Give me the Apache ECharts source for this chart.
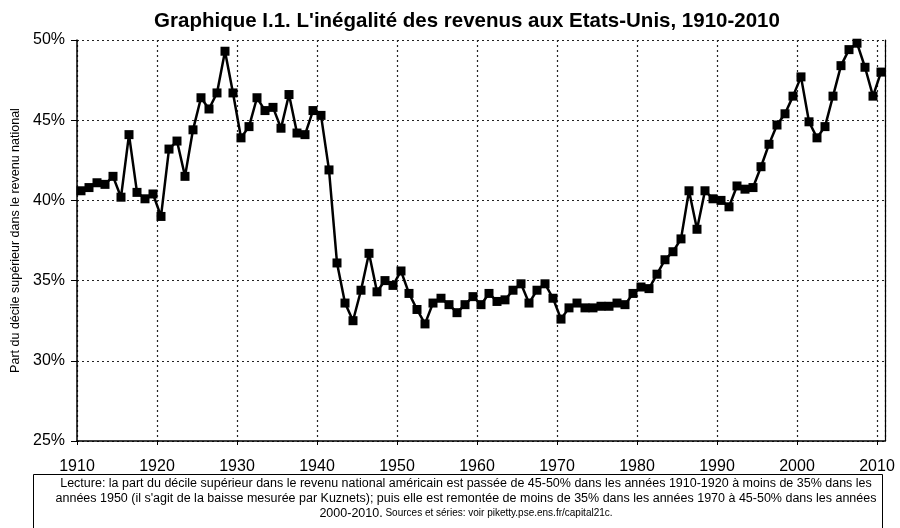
<!DOCTYPE html>
<html>
<head>
<meta charset="utf-8">
<script src="https://cdn.jsdelivr.net/npm/echarts@6/dist/echarts.min.js"></script>
<style>
  html, body { margin: 0; padding: 0; background: #fff; }
  #chart { width: 900px; height: 528px; }
</style>
</head>
<body>
<div id="chart"></div>
<script>
// années 1910-2010
const years = []
for (let y = 1910; y <= 2010; y++) years.push(y)

// part du décile supérieur (%)
const shares = [
  40.6, 40.8, 41.1, 41.0, 41.5, 40.2, 44.1, 40.5, 40.1, 40.4,
  39.0, 43.2, 43.7, 41.5, 44.4, 46.4, 45.7, 46.7, 49.3, 46.7,
  43.9, 44.6, 46.4, 45.6, 45.8, 44.5, 46.6, 44.2, 44.1, 45.6,
  45.3, 41.9, 36.1, 33.6, 32.5, 34.4, 36.7, 34.3, 35.0, 34.7,
  35.6, 34.2, 33.2, 32.3, 33.6, 33.9, 33.5, 33.0, 33.5, 34.0,
  33.5, 34.2, 33.7, 33.8, 34.4, 34.8, 33.6, 34.4, 34.8, 33.9,
  32.6, 33.3, 33.6, 33.3, 33.3, 33.4, 33.4, 33.6, 33.5, 34.2,
  34.6, 34.5, 35.4, 36.3, 36.8, 37.6, 40.6, 38.2, 40.6, 40.1,
  40.0, 39.6, 40.9, 40.7, 40.8, 42.1, 43.5, 44.7, 45.4, 46.5,
  47.7, 44.9, 43.9, 44.6, 46.5, 48.4, 49.4, 49.8, 48.3, 46.5,
  48.0
]

const yTicks = [25, 30, 35, 40, 45, 50]
const titleText = "Graphique I.1. L'inégalité des revenus aux Etats-Unis, 1910-2010"
const yName = 'Part du décile supérieur dans le revenu national'
const noteLine1 = 'Lecture: la part du décile supérieur dans le revenu national américain est passée de 45-50% dans les années 1910-1920 à moins de 35% dans les'
const noteLine2 = 'années 1950 (il s\'agit de la baisse mesurée par Kuznets); puis elle est remontée de moins de 35% dans les années 1970 à 45-50% dans les années'
const noteLine3a = '2000-2010.'
const noteLine3b = ' Sources et séries: voir piketty.pse.ens.fr/capital21c.'

// chaque année est centrée dans sa case
const points = years.map((y, i) => [y + 0.5, shares[i]])

const chart = echarts.init(document.getElementById('chart'))

const dotted = { color: '#222', width: 1.2, type: [2, 3] }
const font = '"Liberation Sans", Arial, sans-serif'

chart.setOption({
  animation: false,
  textStyle: { fontFamily: font },
  title: {
    text: titleText,
    left: 462,
    textAlign: 'center',
    top: 6,
    textStyle: { fontSize: 20.5, fontWeight: 'bold', color: '#000' }
  },
  grid: { left: 77, right: 15, top: 40, bottom: 87 },
  xAxis: {
    type: 'value',
    min: 1910,
    max: 2011,
    interval: 10,
    axisLine: { show: true, onZero: false, lineStyle: { color: '#000', width: 1.5 } },
    axisTick: { show: true, length: 4, lineStyle: { color: '#000' } },
    axisLabel: {
      color: '#000',
      fontSize: 16,
      margin: 18,
      showMaxLabel: false,
      formatter: v => (v % 10 === 0 ? String(v) : '')
    },
    splitLine: { show: true, lineStyle: dotted }
  },
  yAxis: [
    {
      type: 'value',
      min: yTicks[0],
      max: yTicks[yTicks.length - 1],
      interval: 5,
      name: yName,
      nameLocation: 'middle',
      nameGap: 54,
      nameTextStyle: { fontSize: 12.5, color: '#000' },
      axisLine: { show: true, lineStyle: { color: '#000', width: 1.5 } },
      axisTick: { show: true, length: 6, lineStyle: { color: '#000' } },
      axisLabel: { color: '#000', fontSize: 16, margin: 12, formatter: '{value}%' },
      splitLine: { show: true, lineStyle: dotted }
    },
    {
      type: 'value',
      position: 'right',
      min: yTicks[0],
      max: yTicks[yTicks.length - 1],
      interval: 5,
      axisLine: { show: true, lineStyle: { color: '#000', width: 1.2 } },
      axisTick: { show: false },
      axisLabel: { show: false },
      splitLine: { show: false }
    }
  ],
  series: [
    {
      type: 'line',
      data: points,
      symbol: 'rect',
      symbolSize: 9,
      showAllSymbol: true,
      lineStyle: { color: '#000', width: 2.5 },
      itemStyle: { color: '#000' }
    }
  ],
  graphic: [
    {
      type: 'rect',
      left: 33,
      top: 474,
      shape: { width: 849, height: 70 },
      style: { fill: '#fff', stroke: '#000', lineWidth: 1 }
    },
    {
      type: 'text',
      x: 466,
      y: 476,
      style: {
        text: noteLine1 + '\n' + noteLine2 + '\n{a|' + noteLine3a + '}{b|' + noteLine3b + '}',
        align: 'center',
        fontFamily: font,
        fontSize: 12.5,
        lineHeight: 15,
        fill: '#000',
        rich: {
          a: { fontFamily: font, fontSize: 12.5, lineHeight: 15, fill: '#000' },
          b: { fontFamily: font, fontSize: 10, lineHeight: 15, fill: '#000' }
        }
      }
    }
  ]
})
</script>
</body>
</html>
